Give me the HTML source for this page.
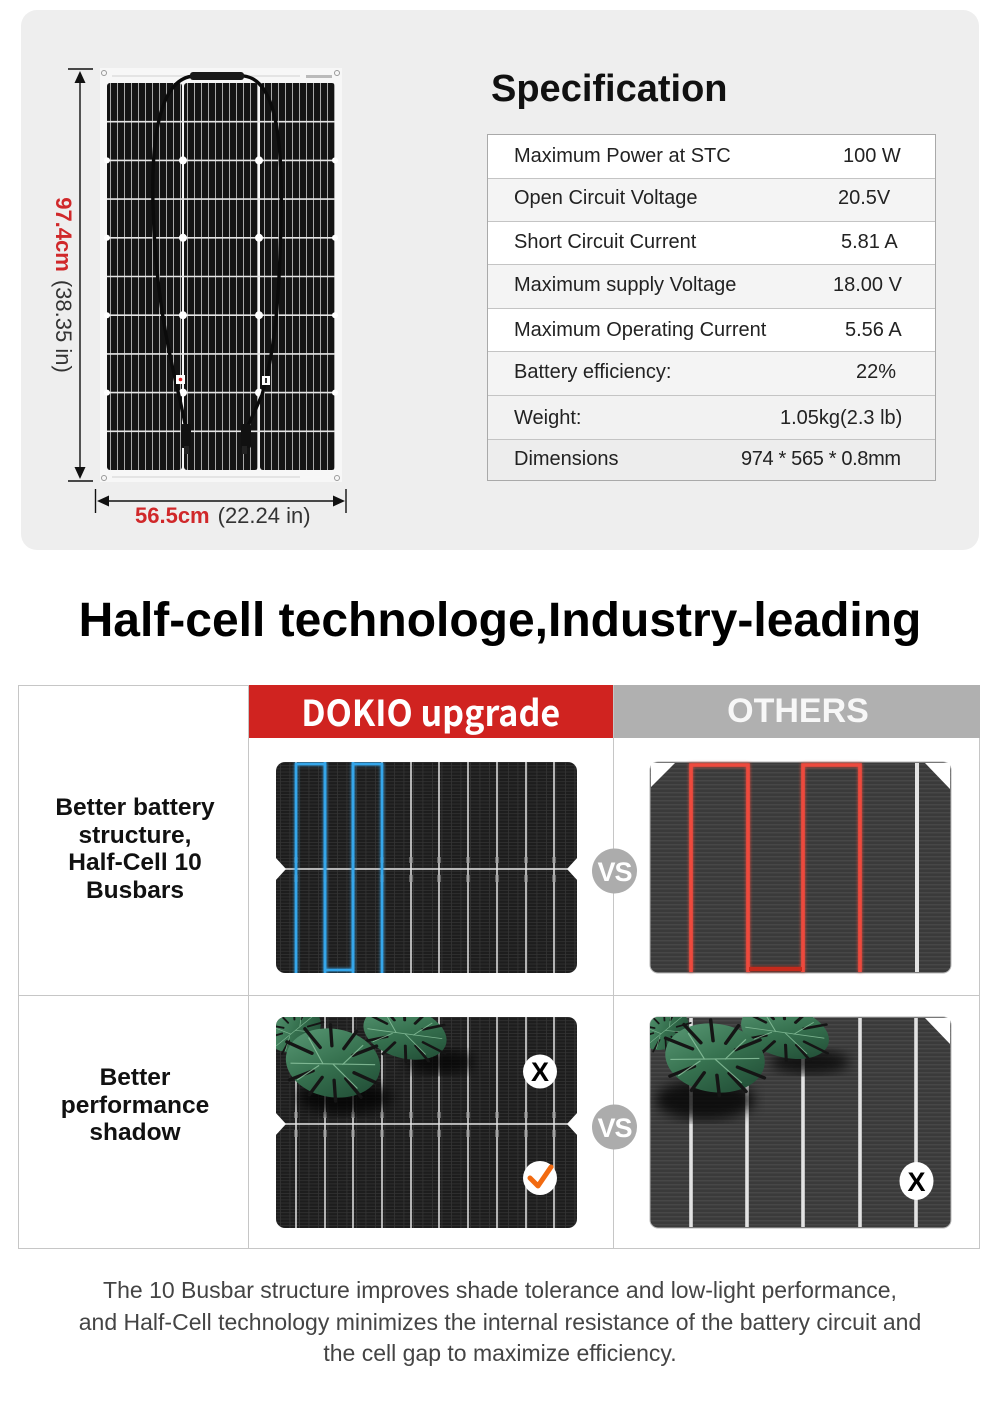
<!DOCTYPE html>
<html><head><meta charset="utf-8">
<style>
html,body{margin:0;padding:0;background:#fff;}
body{width:1000px;height:1414px;position:relative;overflow:hidden;font-family:"Liberation Sans",Arial,sans-serif;}
.abs{position:absolute;}
.graybox{left:21px;top:10px;width:958px;height:540px;border-radius:16px;background:#eeeeee;}
.spec{left:491px;top:70px;font-size:38px;line-height:38px;font-weight:bold;color:#111;white-space:nowrap;}
.tbl{left:487px;top:134px;width:449px;height:347px;box-sizing:border-box;border:1px solid #a9a9a9;background:#fff;overflow:hidden;}
.row{position:absolute;left:0;width:447px;font-size:20px;color:#222;}
.row span{position:absolute;white-space:nowrap;}
.sep{position:absolute;left:0;width:447px;height:1px;background:#c4c4c4;}
.h1{left:0;top:597px;width:1000px;text-align:center;font-size:48px;line-height:48px;font-weight:bold;color:#000;white-space:nowrap;}
.lt{width:234px;left:18px;text-align:center;font-size:24.5px;line-height:27.7px;font-weight:bold;color:#111;}
.bt{left:0;width:1000px;text-align:center;font-size:23px;line-height:31.7px;color:#444;top:1275px;white-space:nowrap;}
</style></head>
<body>
<div class="abs graybox"></div>
<div class="abs spec">Specification</div>

<div class="abs tbl">
  <div class="row" style="top:0;height:43px;background:#fff;"><span style="left:26px;top:10px;">Maximum Power at STC</span><span style="left:355px;top:10px;">100 W</span></div>
  <div class="row" style="top:43px;height:43px;background:#f4f4f4;"><span style="left:26px;top:9px;">Open Circuit Voltage</span><span style="left:350px;top:9px;">20.5V</span></div>
  <div class="row" style="top:86px;height:43px;background:#fff;"><span style="left:26px;top:10px;">Short Circuit Current</span><span style="left:353px;top:10px;">5.81 A</span></div>
  <div class="row" style="top:129px;height:44px;background:#f4f4f4;"><span style="left:26px;top:10px;">Maximum supply Voltage</span><span style="left:345px;top:10px;">18.00 V</span></div>
  <div class="row" style="top:173px;height:43px;background:#fff;"><span style="left:26px;top:11px;">Maximum Operating Current</span><span style="left:357px;top:11px;">5.56 A</span></div>
  <div class="row" style="top:216px;height:44px;background:#f4f4f4;"><span style="left:26px;top:10px;">Battery efficiency:</span><span style="left:368px;top:10px;">22%</span></div>
  <div class="row" style="top:260px;height:44px;background:#f2f2f2;"><span style="left:26px;top:12px;">Weight:</span><span style="left:292px;top:12px;">1.05kg(2.3 lb)</span></div>
  <div class="row" style="top:304px;height:41px;background:#ededed;"><span style="left:26px;top:9px;">Dimensions</span><span style="left:253px;top:9px;letter-spacing:-0.35px;">974 * 565 * 0.8mm</span></div>
  <div class="sep" style="top:43px;"></div>
  <div class="sep" style="top:86px;"></div>
  <div class="sep" style="top:129px;"></div>
  <div class="sep" style="top:173px;"></div>
  <div class="sep" style="top:216px;"></div>
  <div class="sep" style="top:260px;"></div>
  <div class="sep" style="top:304px;"></div>
</div>

<!-- dimension labels -->
<div class="abs" style="left:-37px;top:272px;width:200px;height:26px;line-height:26px;text-align:center;font-size:22px;transform:rotate(90deg);white-space:nowrap;"><span style="color:#d0282a;font-weight:bold;">97.4cm</span><span style="color:#333;margin-left:8px;">(38.35 in)</span></div>
<div class="abs" style="left:135px;top:503px;height:26px;line-height:26px;font-size:22px;white-space:nowrap;"><span style="color:#d0282a;font-weight:bold;">56.5cm</span><span style="color:#333;margin-left:8px;">(22.24 in)</span></div>

<div class="abs h1">Half-cell technologe,Industry-leading</div>

<!-- comparison table structure -->
<div class="abs" style="left:18px;top:685px;width:960px;height:562px;border:1px solid #c6c6c6;"></div>
<div class="abs" style="left:248px;top:685px;width:365px;height:53px;background:#d02320;"></div>
<div class="abs" style="left:613px;top:685px;width:367px;height:53px;background:#b0b0b0;"></div>
<div class="abs" style="left:248px;top:685px;width:1px;height:563px;background:#c6c6c6;"></div>
<div class="abs" style="left:613px;top:685px;width:1px;height:563px;background:#c6c6c6;"></div>
<div class="abs" style="left:18px;top:995px;width:961px;height:1px;background:#c6c6c6;"></div>

<div class="abs" style="left:248px;top:685px;width:365px;height:53px;line-height:52px;text-align:center;color:#fff;font-weight:bold;font-size:36px;font-family:'Noto Sans CJK SC','Liberation Sans',sans-serif;"><span style="display:inline-block;transform:scaleX(0.947);">DOKIO upgrade</span></div>
<div class="abs" style="left:613px;top:685px;width:370px;height:53px;line-height:53px;text-align:center;color:#f7f7f7;font-weight:bold;font-size:34px;">OTHERS</div>

<div class="abs lt" style="top:794px;">Better battery<br>structure,<br>Half-Cell 10<br>Busbars</div>
<div class="abs lt" style="top:1064px;">Better<br>performance<br>shadow</div>

<svg class="abs" style="left:0;top:0;" width="1000" height="1414" viewBox="0 0 1000 1414" xmlns="http://www.w3.org/2000/svg">
<defs>
  <pattern id="fing" patternUnits="userSpaceOnUse" width="7" height="10" x="107" y="0">
    <rect width="7" height="10" fill="#141414"/>
    <rect x="3" width="1" height="10" fill="#a8a8a8"/>
  </pattern>
  <pattern id="dk" patternUnits="userSpaceOnUse" width="9.5" height="3.2">
    <rect width="9.5" height="3.2" fill="#1d1d1d"/>
    <rect y="0" width="9.5" height="0.9" fill="#303030"/>
    <rect x="4" y="0" width="0.8" height="3.2" fill="#343434"/>
  </pattern>
  <pattern id="ot" patternUnits="userSpaceOnUse" width="10" height="4">
    <rect width="10" height="4" fill="#3a3a3a"/>
    <rect width="10" height="1.4" fill="#474747"/>
  </pattern>
  <filter id="glow" x="-20%" y="-20%" width="140%" height="140%">
    <feGaussianBlur stdDeviation="1.6" result="b"/>
    <feMerge><feMergeNode in="b"/><feMergeNode in="SourceGraphic"/></feMerge>
  </filter>
  <filter id="blur6"><feGaussianBlur stdDeviation="6"/></filter>
  <linearGradient id="lg" x1="0" y1="0" x2="1" y2="1">
    <stop offset="0" stop-color="#5c9c78"/>
    <stop offset="0.5" stop-color="#36714f"/>
    <stop offset="1" stop-color="#1d4631"/>
  </linearGradient>
  <g id="leaf">
    <ellipse cx="0" cy="0" rx="50" ry="36" fill="url(#lg)"/>
    <g stroke="#151515" stroke-width="3.5" stroke-linecap="round">
      <line x1="23.5" y1="6.2" x2="51.7" y2="13.5"/>
      <line x1="16.1" y1="13.8" x2="35.4" y2="30.3"/>
      <line x1="4.3" y1="17.7" x2="9.6" y2="39"/>
      <line x1="-8.6" y1="16.9" x2="-18.8" y2="37.2"/>
      <line x1="-19.2" y1="11.6" x2="-42.1" y2="25.5"/>
      <line x1="-23.5" y1="-6.2" x2="-51.7" y2="-13.5"/>
      <line x1="-16.1" y1="-13.8" x2="-35.4" y2="-30.3"/>
      <line x1="-4.3" y1="-17.7" x2="-9.6" y2="-39"/>
      <line x1="8.6" y1="-16.9" x2="18.8" y2="-37.2"/>
      <line x1="19.2" y1="-11.6" x2="42.1" y2="-25.5"/>
    </g>
    <g stroke="#8fc7a2" stroke-width="1.2" fill="none" opacity="0.8">
      <line x1="-44" y1="8" x2="44" y2="-6"/>
      <line x1="0" y1="1" x2="30" y2="22"/>
      <line x1="-10" y1="3" x2="-30" y2="-22"/>
      <line x1="10" y1="0" x2="28" y2="-24"/>
      <line x1="-14" y1="5" x2="-34" y2="24"/>
    </g>
  </g>
  <clipPath id="cpD1"><rect x="276" y="762" width="301" height="211" rx="9"/></clipPath>
  <clipPath id="cpD2"><rect x="276" y="1017" width="301" height="211" rx="9"/></clipPath>
  <clipPath id="cpO2"><rect x="650" y="1017" width="301" height="211" rx="8"/></clipPath>
  <g id="dokpanel">
    <rect width="301" height="211" rx="9" fill="url(#dk)"/>
    <g stroke="#d8d8d8" stroke-width="1.6">
      <line x1="20" y1="0" x2="20" y2="211"/><line x1="49" y1="0" x2="49" y2="211"/>
      <line x1="77" y1="0" x2="77" y2="211"/><line x1="106" y1="0" x2="106" y2="211"/>
      <line x1="135" y1="0" x2="135" y2="211"/><line x1="163" y1="0" x2="163" y2="211"/>
      <line x1="192" y1="0" x2="192" y2="211"/><line x1="221" y1="0" x2="221" y2="211"/>
      <line x1="250" y1="0" x2="250" y2="211"/><line x1="278" y1="0" x2="278" y2="211"/>
    </g>
    <line x1="0" y1="107" x2="301" y2="107" stroke="#e2e2e2" stroke-width="1.6"/>
    <g fill="#a5a5a5">
      <rect x="18.5" y="95" width="3" height="6"/><rect x="18.5" y="113" width="3" height="7"/>
      <rect x="47.5" y="95" width="3" height="6"/><rect x="47.5" y="113" width="3" height="7"/>
      <rect x="75.5" y="95" width="3" height="6"/><rect x="75.5" y="113" width="3" height="7"/>
      <rect x="104.5" y="95" width="3" height="6"/><rect x="104.5" y="113" width="3" height="7"/>
      <rect x="133.5" y="95" width="3" height="6"/><rect x="133.5" y="113" width="3" height="7"/>
      <rect x="161.5" y="95" width="3" height="6"/><rect x="161.5" y="113" width="3" height="7"/>
      <rect x="190.5" y="95" width="3" height="6"/><rect x="190.5" y="113" width="3" height="7"/>
      <rect x="219.5" y="95" width="3" height="6"/><rect x="219.5" y="113" width="3" height="7"/>
      <rect x="248.5" y="95" width="3" height="6"/><rect x="248.5" y="113" width="3" height="7"/>
      <rect x="276.5" y="95" width="3" height="6"/><rect x="276.5" y="113" width="3" height="7"/>
    </g>
    <polygon points="-1,95 10,107 -1,119" fill="#fff"/>
    <polygon points="302,95 291,107 302,119" fill="#fff"/>
  </g>
</defs>

<!-- ===== Top solar panel ===== -->
<rect x="100" y="68" width="242" height="414" fill="#f7f7f7"/>
<line x1="112" y1="76" x2="300" y2="76" stroke="#d0d0d0" stroke-width="1"/>
<rect x="306" y="75" width="26" height="3" fill="#bbb"/>
<line x1="112" y1="477" x2="300" y2="477" stroke="#d0d0d0" stroke-width="1"/>
<g fill="none" stroke="#999" stroke-width="1">
  <circle cx="104" cy="73" r="2.5"/><circle cx="337" cy="73" r="2.5"/>
  <circle cx="104" cy="478" r="2.5"/><circle cx="337" cy="478" r="2.5"/>
</g>
<rect x="107" y="83" width="75" height="387" rx="3" fill="url(#fing)"/>
<rect x="184" y="83" width="74" height="387" rx="3" fill="url(#fing)"/>
<rect x="260" y="83" width="75" height="387" rx="3" fill="url(#fing)"/>
<g stroke="#e6e6e6" stroke-width="1.6">
  <line x1="107" y1="121.7" x2="335" y2="121.7"/><line x1="107" y1="160.4" x2="335" y2="160.4"/>
  <line x1="107" y1="199.1" x2="335" y2="199.1"/><line x1="107" y1="237.8" x2="335" y2="237.8"/>
  <line x1="107" y1="276.5" x2="335" y2="276.5"/><line x1="107" y1="315.2" x2="335" y2="315.2"/>
  <line x1="107" y1="353.9" x2="335" y2="353.9"/><line x1="107" y1="392.6" x2="335" y2="392.6"/>
  <line x1="107" y1="431.3" x2="335" y2="431.3"/>
</g>
<g fill="#fff">
  <circle cx="183" cy="160.4" r="4"/><circle cx="259" cy="160.4" r="4"/><circle cx="107" cy="160.4" r="3"/><circle cx="335" cy="160.4" r="3"/>
  <circle cx="183" cy="237.8" r="4"/><circle cx="259" cy="237.8" r="4"/><circle cx="107" cy="237.8" r="3"/><circle cx="335" cy="237.8" r="3"/>
  <circle cx="183" cy="315.2" r="4"/><circle cx="259" cy="315.2" r="4"/><circle cx="107" cy="315.2" r="3"/><circle cx="335" cy="315.2" r="3"/>
  <circle cx="183" cy="392.6" r="4"/><circle cx="259" cy="392.6" r="4"/><circle cx="107" cy="392.6" r="3"/><circle cx="335" cy="392.6" r="3"/>
</g>
<!-- cables -->
<g fill="none" stroke="#0b0b0b" stroke-width="3.4" stroke-linecap="round">
  <path d="M194,76 C162,78 151,130 153,205 C155,290 168,350 180,400 L186,428"/>
  <path d="M244,76 C276,80 283,140 281,220 C279,320 272,360 262,395 L247,428"/>
</g>
<rect x="190" y="72" width="54" height="8" rx="3" fill="#1a1a1a"/>
<rect x="181" y="424" width="10" height="24" rx="2" fill="#111"/>
<rect x="184" y="446" width="5" height="8" fill="#222"/>
<rect x="241" y="424" width="10" height="24" rx="2" fill="#111"/>
<rect x="242" y="446" width="5" height="8" fill="#222"/>
<rect x="176" y="375" width="9" height="9" fill="#fff"/>
<circle cx="180.5" cy="379.5" r="1.8" fill="#d22"/>
<rect x="262" y="376" width="8" height="9" fill="#fff"/>
<rect x="265" y="378" width="2" height="5" fill="#333"/>

<!-- dimension arrows -->
<g stroke="#111" stroke-width="1.4">
  <line x1="68" y1="69" x2="93" y2="69"/>
  <line x1="68" y1="481" x2="93" y2="481"/>
  <line x1="80" y1="78" x2="80" y2="472"/>
  <line x1="95.5" y1="489" x2="95.5" y2="513"/>
  <line x1="346" y1="489" x2="346" y2="513"/>
  <line x1="104" y1="501" x2="338" y2="501"/>
</g>
<g fill="#111">
  <polygon points="80,71 74.5,83 85.5,83"/>
  <polygon points="80,479 74.5,467 85.5,467"/>
  <polygon points="97,501 109,495.5 109,506.5"/>
  <polygon points="345,501 333,495.5 333,506.5"/>
</g>

<!-- ===== Row 1 DOKIO ===== -->
<use href="#dokpanel" transform="translate(276,762)"/>
<g clip-path="url(#cpD1)" filter="url(#glow)" fill="none" stroke="#34a6ea" stroke-width="2.6">
  <path d="M296,975 V764 H325 V975"/>
  <path d="M353,975 V764 H382 V975"/>
  <path d="M325,762 V970 H353 V762"/>
</g>

<!-- ===== Row 1 OTHERS ===== -->
<rect x="650" y="762" width="301" height="211" rx="8" fill="url(#ot)" stroke="#b5b5b5" stroke-width="1"/>
<polygon points="651,763 675,763 651,787" fill="#fff"/>
<polygon points="925,763 950,763 950,789" fill="#fff"/>
<line x1="917" y1="763" x2="917" y2="972" stroke="#e4e4e4" stroke-width="4"/>
<g filter="url(#glow)" fill="none" stroke-width="3.6">
  <path d="M691,972 V765 H748 V972" stroke="#ee4a3c"/>
  <path d="M803,972 V765 H860 V972" stroke="#ee4a3c"/>
  <path d="M749,969 H802" stroke="#c4291f" stroke-width="4"/>
</g>

<!-- VS circles -->
<circle cx="614.5" cy="871" r="22.5" fill="#acacac"/>
<text x="614.5" y="881" text-anchor="middle" font-family="Liberation Sans, Arial, sans-serif" font-weight="bold" font-size="27" fill="#fff" letter-spacing="-1">VS</text>
<circle cx="614.5" cy="1127" r="22.5" fill="#acacac"/>
<text x="614.5" y="1137" text-anchor="middle" font-family="Liberation Sans, Arial, sans-serif" font-weight="bold" font-size="27" fill="#fff" letter-spacing="-1">VS</text>

<!-- ===== Row 2 DOKIO ===== -->
<use href="#dokpanel" transform="translate(276,1017)"/>
<g clip-path="url(#cpD2)">
  <ellipse cx="345" cy="1098" rx="48" ry="16" fill="#000" opacity="0.75" filter="url(#blur6)"/>
  <ellipse cx="440" cy="1062" rx="35" ry="12" fill="#000" opacity="0.7" filter="url(#blur6)"/>
  <use href="#leaf" transform="translate(295,1030) rotate(-30) scale(0.55)"/>
  <use href="#leaf" transform="translate(405,1033) rotate(15) scale(0.85,0.7)"/>
  <use href="#leaf" transform="translate(333,1063) rotate(10) scale(0.95,0.95)"/>
</g>
<circle cx="540" cy="1071.5" r="17" fill="#fff"/>
<text x="540" y="1081" text-anchor="middle" font-family="Liberation Sans, Arial, sans-serif" font-weight="bold" font-size="27" fill="#000">X</text>
<circle cx="540" cy="1178" r="17" fill="#fff"/>
<path d="M530,1178 L538,1186 L551,1167" fill="none" stroke="#f26a10" stroke-width="5" stroke-linecap="round" stroke-linejoin="round"/>

<!-- ===== Row 2 OTHERS ===== -->
<rect x="650" y="1017" width="301" height="211" rx="8" fill="url(#ot)" stroke="#b5b5b5" stroke-width="1"/>
<polygon points="925,1018 950,1018 950,1044" fill="#fff"/>
<g stroke="#e2e2e2" stroke-width="3.6">
  <line x1="691" y1="1018" x2="691" y2="1227"/>
  <line x1="747" y1="1018" x2="747" y2="1227"/>
  <line x1="803" y1="1018" x2="803" y2="1227"/>
  <line x1="860" y1="1018" x2="860" y2="1227"/>
  <line x1="916" y1="1018" x2="916" y2="1227"/>
</g>
<g clip-path="url(#cpO2)">
  <ellipse cx="705" cy="1100" rx="50" ry="20" fill="#000" opacity="0.75" filter="url(#blur6)"/>
  <ellipse cx="810" cy="1062" rx="40" ry="12" fill="#000" opacity="0.7" filter="url(#blur6)"/>
  <use href="#leaf" transform="translate(665,1030) rotate(-30) scale(0.5)"/>
  <use href="#leaf" transform="translate(785,1032) rotate(15) scale(0.9,0.7)"/>
  <use href="#leaf" transform="translate(715,1058) rotate(8) scale(1.0,0.95)"/>
</g>
<ellipse cx="916.5" cy="1181" rx="17" ry="19" fill="#fff"/>
<text x="916.5" y="1191" text-anchor="middle" font-family="Liberation Sans, Arial, sans-serif" font-weight="bold" font-size="27" fill="#000">X</text>
</svg>

<div class="abs bt">The 10 Busbar structure improves shade tolerance and low-light performance,<br>and Half-Cell technology minimizes the internal resistance of the battery circuit and<br>the cell gap to maximize efficiency.</div>
</body></html>
